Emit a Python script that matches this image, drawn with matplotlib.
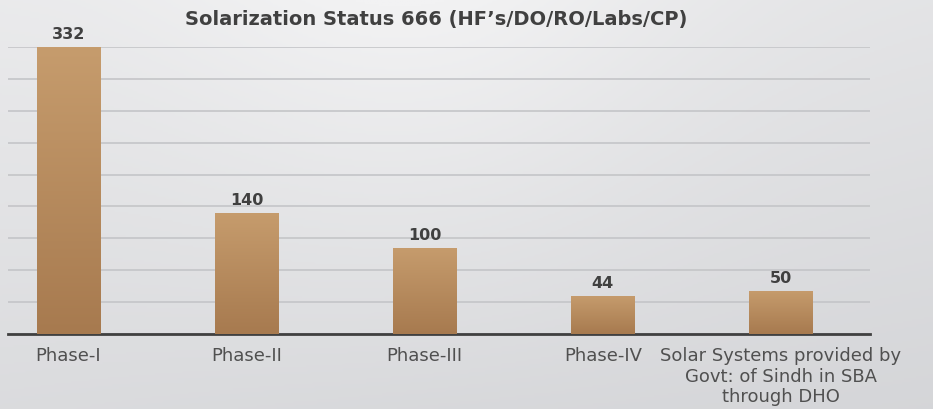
#!/usr/bin/env python3
"""Solarization status bar chart."""

import numpy as np
import matplotlib.pyplot as plt
from matplotlib.colors import LinearSegmentedColormap

categories = ['Phase-I', 'Phase-II', 'Phase-III', 'Phase-IV',
              'Solar Systems provided by\nGovt: of Sindh in SBA\nthrough DHO']
values = [332, 140, 100, 44, 50]
title = 'Solarization Status 666 (HF\u2019s/DO/RO/Labs/CP)'

plt.rcParams['font.family'] = ['DejaVu Sans']

fig = plt.figure(figsize=(9.33, 4.10), dpi=100)

# background gradient (light grey, lighter towards top centre)
bg = fig.add_axes([0, 0, 1, 1], zorder=-10)
yy, xx = np.mgrid[0:1:200j, 0:1:400j]
shade = 0.90 - 0.05 * yy + 0.04 * np.exp(-((xx - 0.45) ** 2) / 0.08) * (1 - yy) + 0.02 * (1 - xx)
bg_cmap = LinearSegmentedColormap.from_list('bg', ['#d2d3d6', '#f2f2f3'])
bg.imshow(shade, cmap=bg_cmap, aspect='auto', extent=[0, 1, 0, 1], vmin=0.84, vmax=0.95)
bg.axis('off')

ax = fig.add_axes([8 / 933, 1 - 335 / 410, 862 / 933, 287 / 410])
ax.patch.set_alpha(0)

x = np.arange(len(categories))
bars = ax.bar(x, values, width=0.355, color='none', edgecolor='none', zorder=3)

bar_cmap = LinearSegmentedColormap.from_list('bar', ['#a77a4f', '#c69c6d'])
grad = np.linspace(0, 1, 256).reshape(-1, 1)
for b in bars:
    x0, y0 = b.get_x(), b.get_y()
    im = ax.imshow(grad, cmap=bar_cmap, aspect='auto', origin='lower',
                   extent=[x0, x0 + b.get_width(), y0, y0 + b.get_height()], zorder=3)
    im.set_clip_path(b)

for xi, v in zip(x, values):
    ax.annotate(str(v), (xi, v), xytext=(0, 4), textcoords='offset points',
                ha='center', va='bottom', fontsize=11.5, fontweight='bold', color='#404040')

ax.set_xlim(-0.34, 4.5)
ax.set_ylim(0, 332)
ax.set_yticks(np.linspace(0, 332, 10))
ax.yaxis.grid(True, color='#c4c5c8', linewidth=1.2, zorder=0)
ax.set_axisbelow(True)
ax.tick_params(axis='y', left=False, labelleft=False)
ax.tick_params(axis='x', bottom=False, pad=5)
ax.set_xticks(x)
ax.set_xticklabels(categories, fontsize=13, color='#505050', linespacing=1.2)
for s in ['top', 'right', 'left']:
    ax.spines[s].set_visible(False)
ax.spines['bottom'].set_color('#404040')
ax.spines['bottom'].set_linewidth(2)

fig.text(436 / 933, 1 - 20 / 410, title, ha='center', va='center',
         fontsize=14, fontweight='bold', color='#404040')

fig.savefig('out.png', dpi=100)
